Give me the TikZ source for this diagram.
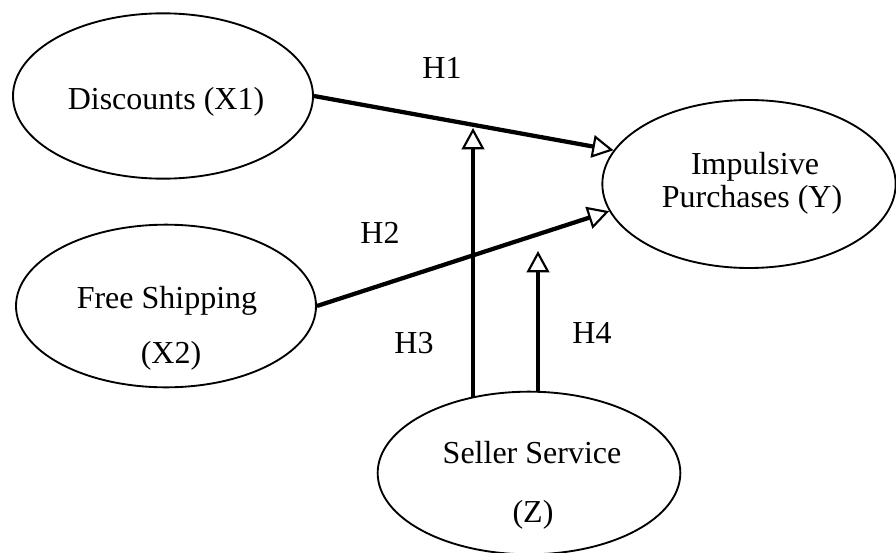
\documentclass[tikz,border=0pt]{standalone}
\usepackage{fontspec}
\setmainfont{Liberation Serif}
\usetikzlibrary{arrows.meta,shapes.geometric}

\tikzset{
  construct/.style={draw, ellipse, line width=1.4pt, inner sep=0pt},
  caption/.style={font=\fontsize{24}{28}\selectfont, anchor=base, inner sep=0pt},
  hyp/.style={draw, line width=3.2pt,
    -{Triangle[open, length=16pt, width=17pt, line width=1.6pt, fill=white]}},
}

\begin{document}
\begin{tikzpicture}[x=0.75pt, y=-0.75pt]
  \useasboundingbox (0,0) rectangle (896,553);

  % constructs
  \node[construct, minimum width=225pt, minimum height=124pt] (x1) at (163,96) {};
  \node[construct, minimum width=225pt, minimum height=122pt] (x2) at (166,306) {};
  \node[construct, minimum width=220pt, minimum height=126pt] (y)  at (749,184) {};
  \node[construct, minimum width=227pt, minimum height=122pt] (z)  at (529,473) {};

  % construct names
  \node[caption] (x1t)  at (166,109) {Discounts (X1)};
  \node[caption] (yt1)  at (755,174) {Impulsive};
  \node[caption] (yt2)  at (752,207) {Purchases (Y)};
  \node[caption] (x2t1) at (167,308) {Free Shipping};
  \node[caption] (x2t2) at (171,363) {(X2)};
  \node[caption] (zt1)  at (532,463) {Seller Service};
  \node[caption] (zt2)  at (533,522) {(Z)};

  % free ends of the moderating paths
  \coordinate (h3end) at (473,128);
  \coordinate (h4end) at (538,251);

  % hypothesised paths
  \draw[hyp] (x1.east) -- (y.166);
  \draw[hyp] (x2.east) -- (y.191);
  \draw[hyp] (h3end |- z.128) -- (h3end);
  \draw[hyp] (h4end |- z.north) -- (h4end);

  % path labels
  \node[caption] (h1) at (442,78) {H1};
  \node[caption] (h2) at (380,243) {H2};
  \node[caption] (h3) at (414,353) {H3};
  \node[caption] (h4) at (592,343) {H4};
\end{tikzpicture}
\end{document}
